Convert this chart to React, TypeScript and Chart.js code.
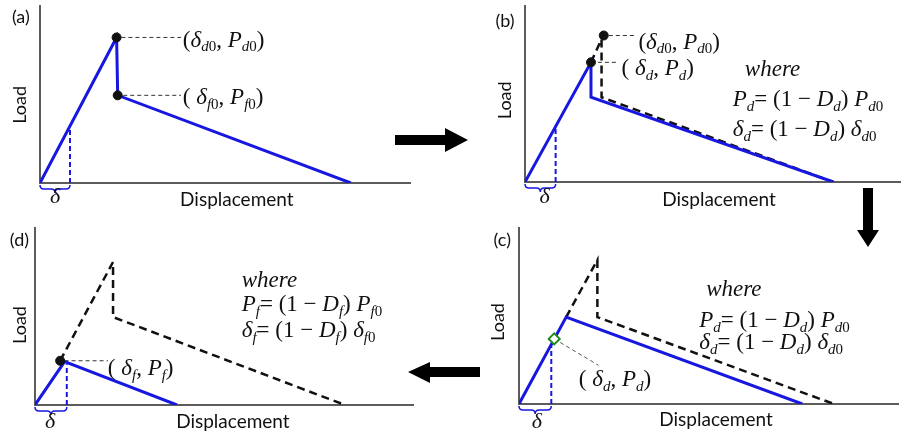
import React, { useEffect, useRef } from "react";
import { Chart, registerables } from "chart.js";

Chart.register(...registerables);

const W = 906;
const H = 436;
const BLUE = "#1717e0";
const AXIS = "#5c5c5c";
const INK = "#111111";
const GREEN = "#1f8a1f";
const SANS = '"Lato", "Liberation Sans", sans-serif';
const SERIF = '"Liberation Serif", "DejaVu Serif", serif';
const MATH = 23;

// ---------- Panel (a): initial law ----------
const aBlueX = [0, 2.07, 2.1, 8.4];
const aBlueY = [0, 8.2, 4.94, 0];
const aDotX = [2.07, 2.1];
const aDotY = [8.2, 4.94];
const aDeltaX = [0.81, 0.81];
const aDeltaY = [0, 3.25];
const aLead1X = [2.2, 3.81];
const aLead1Y = [8.2, 8.2];
const aLead2X = [2.25, 3.81];
const aLead2Y = [4.94, 4.94];

// ---------- Panel (b): damage initiated ----------
const bEnvX = [1.81, 2.1, 2.1, 8.46];
const bEnvY = [6.78, 8.1, 4.8, 0];
const bBlueX = [0, 1.81, 1.81, 8.46];
const bBlueY = [0, 6.78, 4.8, 0];
const bDotX = [2.16, 1.81];
const bDotY = [8.3, 6.78];
const bDeltaX = [0.84, 0.84];
const bDeltaY = [0, 3.2];
const bLead1X = [2.3, 3.05];
const bLead1Y = [8.3, 8.3];
const bLead2X = [2.0, 2.57];
const bLead2Y = [6.78, 6.78];

// ---------- Panel (c): degraded law ----------
const cEnvX = [1.3, 2.16, 2.16, 8.68];
const cEnvY = [4.94, 8.18, 4.94, 0];
const cBlueX = [0, 1.3, 7.81];
const cBlueY = [0, 4.94, 0];
const cDeltaX = [0.89, 0.89];
const cDeltaY = [0, 3.4];
const cMarkX = [0.97];
const cMarkY = [3.7];
const cLeadX = [0.97, 2.19];
const cLeadY = [3.7, 2.2];

// ---------- Panel (d): failure ----------
const dEnvX = [0.68, 2.11, 2.11, 8.38];
const dEnvY = [2.5, 8.08, 4.97, 0];
const dBlueX = [0, 0.8, 3.84];
const dBlueY = [0, 2.45, 0];
const dDotX = [0.68];
const dDotY = [2.5];
const dDeltaX = [0.86, 0.86];
const dDeltaY = [0, 2.3];
const dLeadX = [0.8, 1.97];
const dLeadY = [2.5, 2.5];

const pts = (xs: number[], ys: number[]) => xs.map((x, i) => ({ x, y: ys[i] }));

type Seg = { t: string; i?: boolean; sub?: boolean };
const s = (t: string, i = false, sub = false): Seg => ({ t, i, sub });

const env = (xs: number[], ys: number[]) => ({
  data: pts(xs, ys), showLine: true, borderColor: INK, borderWidth: 2.5,
  borderDash: [8, 5], pointRadius: 0, order: 3,
});
const blue = (xs: number[], ys: number[]) => ({
  data: pts(xs, ys), showLine: true, borderColor: BLUE, borderWidth: 3,
  pointRadius: 0, order: 2,
});
const deltaLine = (xs: number[], ys: number[]) => ({
  data: pts(xs, ys), showLine: true, borderColor: BLUE, borderWidth: 2,
  borderDash: [5, 3], pointRadius: 0, order: 2,
});
const lead = (xs: number[], ys: number[], color = "#333") => ({
  data: pts(xs, ys), showLine: true, borderColor: color, borderWidth: 1,
  borderDash: [4, 3], pointRadius: 0, order: 4,
});
const dots = (xs: number[], ys: number[]) => ({
  data: pts(xs, ys), showLine: false, pointRadius: 4.5, pointBackgroundColor: INK,
  pointBorderColor: INK, order: 1,
});

const lbl = (sym: string, a: string, p: string, sp = false, aSub0 = true): Seg[] => [
  s(sp ? "( " : "("), s(sym, true), s(a, true, true), ...(aSub0 ? [s("0", false, true)] : []),
  s(", "), s("P", true), s(a, true, true), ...(aSub0 ? [s("0", false, true)] : []), s(")"),
];
const eqP = (k: string): Seg[] => [
  s("P", true), s(k, true, true), s("= (1 − "), s("D", true), s(k, true, true), s(") "),
  s("P", true), s(k, true, true), s("0", false, true),
];
const eqD = (k: string): Seg[] => [
  s("δ", true), s(k, true, true), s("= (1 − "), s("D", true), s(k, true, true), s(") "),
  s("δ", true), s(k, true, true), s("0", false, true),
];

type Note =
  | { kind: "tag"; text: string; x: number; y: number }
  | { kind: "load"; x: number; y: number }
  | { kind: "disp"; x: number; y: number }
  | { kind: "delta"; x: number; y: number }
  | { kind: "rich"; segs: Seg[]; x: number; y: number; size: number };

interface Spec {
  pad: { left: number; top: number; right: number; bottom: number };
  xMax: number;
  yMax: number;
  datasets: any[];
  braceTo: number;
  notes: Note[];
  arrows?: boolean;
}

const specs: Spec[] = [
  {
    pad: { left: 40, top: 5, right: 496, bottom: 253 }, xMax: 10, yMax: 10, braceTo: aDeltaX[0],
    datasets: [blue(aBlueX, aBlueY), deltaLine(aDeltaX, aDeltaY), lead(aLead1X, aLead1Y),
      lead(aLead2X, aLead2Y), dots(aDotX, aDotY)],
    notes: [
      { kind: "tag", text: "(a)", x: -0.76, y: 9.33 },
      { kind: "load", x: -0.54, y: 4.4 },
      { kind: "disp", x: 5.32, y: -0.96 },
      { kind: "delta", x: 0.41, y: -0.8 },
      { kind: "rich", segs: lbl("δ", "d", "P"), x: 3.86, y: 8.03, size: MATH },
      { kind: "rich", segs: lbl("δ", "f", "P", true), x: 3.86, y: 4.8, size: MATH },
    ],
    arrows: true,
  },
  {
    pad: { left: 525, top: 5, right: 0, bottom: 254 }, xMax: 10.3, yMax: 10, braceTo: bDeltaX[0],
    datasets: [env(bEnvX, bEnvY), blue(bBlueX, bBlueY), deltaLine(bDeltaX, bDeltaY),
      lead(bLead1X, bLead1Y), lead(bLead2X, bLead2Y), dots(bDotX, bDotY)],
    notes: [
      { kind: "tag", text: "(b)", x: -0.81, y: 9.1 },
      { kind: "load", x: -0.54, y: 4.63 },
      { kind: "disp", x: 5.32, y: -1.02 },
      { kind: "delta", x: 0.54, y: -0.85 },
      { kind: "rich", segs: lbl("δ", "d", "P"), x: 3.11, y: 7.9, size: MATH },
      { kind: "rich", segs: lbl("δ", "d", "P", true, false), x: 2.65, y: 6.4, size: MATH },
      { kind: "rich", segs: [s("where", true)], x: 6.03, y: 6.33, size: MATH },
      { kind: "rich", segs: eqP("d"), x: 5.7, y: 4.63, size: MATH },
      { kind: "rich", segs: eqD("d"), x: 5.7, y: 2.94, size: MATH },
    ],
  },
  {
    pad: { left: 519, top: 228, right: 0, bottom: 32 }, xMax: 10.46, yMax: 10, braceTo: cDeltaX[0],
    datasets: [env(cEnvX, cEnvY), blue(cBlueX, cBlueY), deltaLine(cDeltaX, cDeltaY),
      lead(cLeadX, cLeadY, "#555"),
      {
        data: pts(cMarkX, cMarkY), showLine: false, pointStyle: "rectRot", pointRadius: 5.5,
        pointBackgroundColor: "#ffffff", pointBorderColor: GREEN, pointBorderWidth: 2, order: 0,
      }],
    notes: [
      { kind: "tag", text: "(c)", x: -0.7, y: 9.32 },
      { kind: "load", x: -0.57, y: 4.66 },
      { kind: "disp", x: 5.43, y: -0.91 },
      { kind: "delta", x: 0.49, y: -1.02 },
      { kind: "rich", segs: lbl("δ", "d", "P", true, false), x: 1.65, y: 1.36, size: MATH },
      { kind: "rich", segs: [s("where", true)], x: 5.16, y: 6.48, size: MATH },
      { kind: "rich", segs: eqP("d"), x: 4.97, y: 4.7, size: MATH },
      { kind: "rich", segs: eqD("d"), x: 4.97, y: 3.45, size: MATH },
    ],
  },
  {
    pad: { left: 35, top: 228, right: 493, bottom: 31 }, xMax: 10.22, yMax: 10, braceTo: dDeltaX[0],
    datasets: [env(dEnvX, dEnvY), blue(dBlueX, dBlueY), deltaLine(dDeltaX, dDeltaY),
      lead(dLeadX, dLeadY), dots(dDotX, dDotY)],
    notes: [
      { kind: "tag", text: "(d)", x: -0.68, y: 9.32 },
      { kind: "load", x: -0.41, y: 4.52 },
      { kind: "disp", x: 5.35, y: -0.96 },
      { kind: "delta", x: 0.41, y: -0.96 },
      { kind: "rich", segs: lbl("δ", "f", "P", true, false), x: 1.97, y: 2.03, size: MATH },
      { kind: "rich", segs: [s("where", true)], x: 5.59, y: 7.0, size: MATH },
      { kind: "rich", segs: eqP("f"), x: 5.59, y: 5.65, size: MATH },
      { kind: "rich", segs: eqD("f"), x: 5.59, y: 4.18, size: MATH },
    ],
  },
];

function drawRich(ctx: CanvasRenderingContext2D, segs: Seg[], x: number, y: number, size: number) {
  let cx = x;
  ctx.textBaseline = "middle";
  ctx.textAlign = "left";
  for (const g of segs) {
    const fs = g.sub ? Math.round(size * 0.66) : size;
    ctx.font = `${g.i ? "italic " : ""}${fs}px ${SERIF}`;
    ctx.fillText(g.t, cx, y + (g.sub ? size * 0.3 : 0));
    cx += ctx.measureText(g.t).width;
  }
}

function brace(ctx: CanvasRenderingContext2D, x1: number, x2: number, y: number, h: number) {
  const m = (x1 + x2) / 2;
  const r = Math.min(4, (x2 - x1) / 6);
  ctx.beginPath();
  ctx.moveTo(x1, y);
  ctx.quadraticCurveTo(x1, y + h / 2, x1 + r, y + h / 2);
  ctx.lineTo(m - r, y + h / 2);
  ctx.quadraticCurveTo(m, y + h / 2, m, y + h);
  ctx.quadraticCurveTo(m, y + h / 2, m + r, y + h / 2);
  ctx.lineTo(x2 - r, y + h / 2);
  ctx.quadraticCurveTo(x2, y + h / 2, x2, y);
  ctx.strokeStyle = BLUE;
  ctx.lineWidth = 1.5;
  ctx.stroke();
}

function drawArrows(ctx: CanvasRenderingContext2D) {
  ctx.fillStyle = "#000";
  // right arrow (a) -> (b)
  ctx.beginPath();
  ctx.moveTo(395, 135); ctx.lineTo(445, 135); ctx.lineTo(445, 128); ctx.lineTo(468, 140);
  ctx.lineTo(445, 152); ctx.lineTo(445, 145); ctx.lineTo(395, 145); ctx.closePath(); ctx.fill();
  // down arrow (b) -> (c)
  ctx.beginPath();
  ctx.moveTo(863, 188); ctx.lineTo(873, 188); ctx.lineTo(873, 230); ctx.lineTo(879, 230);
  ctx.lineTo(868, 247); ctx.lineTo(857, 230); ctx.lineTo(863, 230); ctx.closePath(); ctx.fill();
  // left arrow (c) -> (d)
  ctx.beginPath();
  ctx.moveTo(480, 367); ctx.lineTo(430, 367); ctx.lineTo(430, 362); ctx.lineTo(408, 372);
  ctx.lineTo(430, 383); ctx.lineTo(430, 377); ctx.lineTo(480, 377); ctx.closePath(); ctx.fill();
}

function makeNotes(spec: Spec) {
  return {
    id: "notes",
    afterDraw(chart: any) {
      const ctx: CanvasRenderingContext2D = chart.ctx;
      const xs = chart.scales.x;
      const ys = chart.scales.y;
      const px = (v: number) => xs.getPixelForValue(v);
      const py = (v: number) => ys.getPixelForValue(v);
      ctx.save();
      ctx.fillStyle = "#111";
      brace(ctx, px(0), px(spec.braceTo), py(0) + 2, 8);
      for (const n of spec.notes) {
        if (n.kind === "tag") {
          ctx.font = `18px ${SANS}`;
          ctx.textAlign = "left";
          ctx.textBaseline = "middle";
          ctx.fillText(n.text, px(n.x), py(n.y));
        } else if (n.kind === "load") {
          ctx.save();
          ctx.translate(px(n.x), py(n.y));
          ctx.rotate(-Math.PI / 2);
          ctx.font = `18px ${SANS}`;
          ctx.textAlign = "center";
          ctx.textBaseline = "middle";
          ctx.fillText("Load", 0, 0);
          ctx.restore();
        } else if (n.kind === "disp") {
          ctx.font = `19px ${SANS}`;
          ctx.textAlign = "center";
          ctx.textBaseline = "middle";
          ctx.fillText("Displacement", px(n.x), py(n.y));
        } else if (n.kind === "delta") {
          ctx.font = `italic 22px ${SERIF}`;
          ctx.textAlign = "center";
          ctx.textBaseline = "middle";
          ctx.fillText("δ", px(n.x), py(n.y));
        } else {
          drawRich(ctx, n.segs, px(n.x), py(n.y), n.size);
        }
      }
      if (spec.arrows) drawArrows(ctx);
      ctx.restore();
    },
  };
}

function Panel({ spec }: { spec: Spec }) {
  const ref = useRef<HTMLCanvasElement>(null);
  useEffect(() => {
    const axis = (isX: boolean, max: number) => ({
      type: "linear" as const,
      min: 0,
      max,
      grid: { display: false, drawTicks: false },
      ticks: { display: false },
      border: { display: true, color: AXIS, width: 2 },
      afterFit: (sc: any) => {
        if (isX) sc.height = 0; else sc.width = 0;
      },
    });
    const chart = new Chart(ref.current!, {
      type: "scatter",
      data: { datasets: spec.datasets },
      options: {
        animation: false,
        responsive: false,
        devicePixelRatio: 1,
        layout: { padding: spec.pad },
        elements: { line: { tension: 0, fill: false } },
        plugins: { legend: { display: false }, tooltip: { enabled: false } },
        scales: { x: axis(true, spec.xMax), y: axis(false, spec.yMax) },
      } as any,
      plugins: [makeNotes(spec)],
    });
    return () => chart.destroy();
  }, [spec]);
  return (
    <canvas
      ref={ref}
      width={W}
      height={H}
      style={{ position: "absolute", left: 0, top: 0, width: W, height: H }}
    />
  );
}

export default function App() {
  return (
    <div style={{ position: "fixed", left: 0, top: 0, width: W, height: H, background: "#fff" }}>
      {specs.map((sp, i) => (
        <Panel key={i} spec={sp} />
      ))}
    </div>
  );
}
